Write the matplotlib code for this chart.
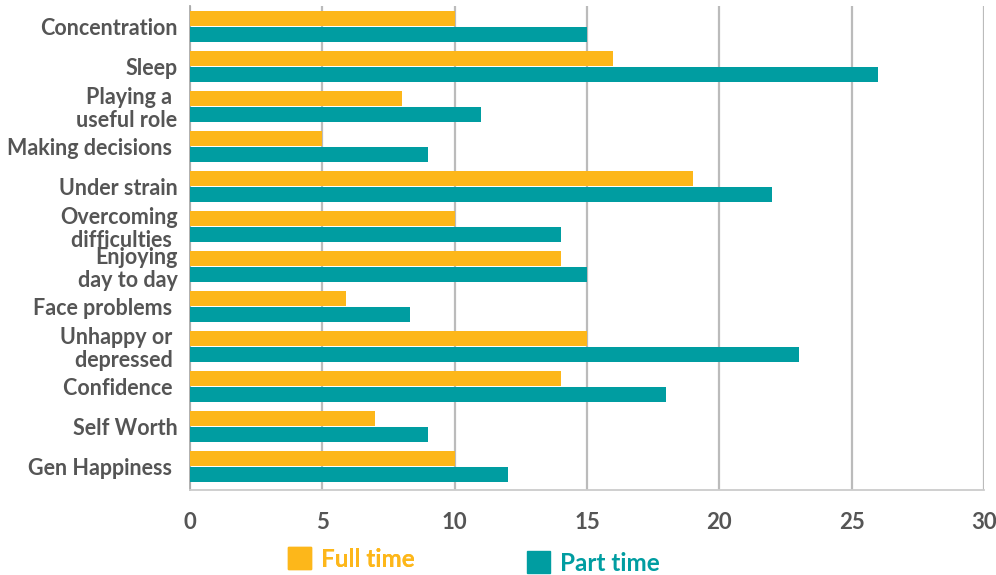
import numpy as np
import matplotlib
matplotlib.use('Agg')
import matplotlib.pyplot as plt
from matplotlib.patches import Patch

plt.rcParams['font.family'] = ['Lato', 'DejaVu Sans']

categories = ['Concentration', 'Sleep', 'Playing a \nuseful role', 'Making decisions ',
              'Under strain', 'Overcoming\ndifficulties ', 'Enjoying\nday to day',
              'Face problems ', 'Unhappy or \ndepressed ', 'Confidence ', 'Self Worth',
              'Gen Happiness ']
full_time = [10, 16, 8, 5, 19, 10, 14, 5.9, 15, 14, 7, 10]
part_time = [15, 26, 11, 9, 22, 14, 15, 8.3, 23, 18, 9, 12]
x_ticks = [0, 5, 10, 15, 20, 25, 30]

orange = '#FDB71A'
teal = '#009DA1'
grey_text = '#555555'

fig = plt.figure(figsize=(9.96, 5.75), dpi=100)
ax = fig.add_axes([190/996, 1-490/575, (984-190)/996, 484/575])

y = np.arange(len(categories))
h = 0.39
ax.barh(y - 0.2, full_time, height=h, color=orange, zorder=3)
ax.barh(y + 0.2, part_time, height=h, color=teal, zorder=3)

ax.set_ylim(11.59, -0.51)
ax.set_xlim(0, 30)
ax.set_xticks(x_ticks)
ax.set_xticklabels([str(t) for t in x_ticks], fontsize=16, fontweight='bold', color=grey_text)
ax.set_yticks(y)
ax.set_yticklabels(categories, fontsize=15.5, fontweight='bold', color=grey_text,
                   linespacing=1.08)
ax.tick_params(axis='both', length=0)
ax.tick_params(axis='x', pad=16)
ax.tick_params(axis='y', pad=9)
for lbl in ax.get_yticklabels():
    lbl.set_va('center_baseline')

ax.grid(axis='x', color='#BBBBBB', linewidth=1.6, zorder=0)
for s in ['top', 'right']:
    ax.spines[s].set_visible(False)
ax.spines['left'].set_color('#AAAAAA')
ax.spines['left'].set_linewidth(1.3)
ax.spines['bottom'].set_color('#CCCCCC')
ax.spines['bottom'].set_linewidth(1.3)

leg1 = fig.legend(handles=[Patch(color=orange, label='Full time')], loc='center left',
                  bbox_to_anchor=(288/996, 1-559/575), frameon=False, borderpad=0,
                  borderaxespad=0, handlelength=0.95, handleheight=1.0, handletextpad=0.4,
                  prop={'family': 'Lato', 'weight': 'bold', 'size': 17.5})
for t in leg1.get_texts():
    t.set_color(orange)
leg2 = fig.legend(handles=[Patch(color=teal, label='Part time')], loc='center left',
                  bbox_to_anchor=(527/996, 1-563/575), frameon=False, borderpad=0,
                  borderaxespad=0, handlelength=0.95, handleheight=1.0, handletextpad=0.4,
                  prop={'family': 'Lato', 'weight': 'bold', 'size': 17.5})
for t in leg2.get_texts():
    t.set_color(teal)
fig.add_artist(leg1)

plt.savefig('out.png', dpi=100)
